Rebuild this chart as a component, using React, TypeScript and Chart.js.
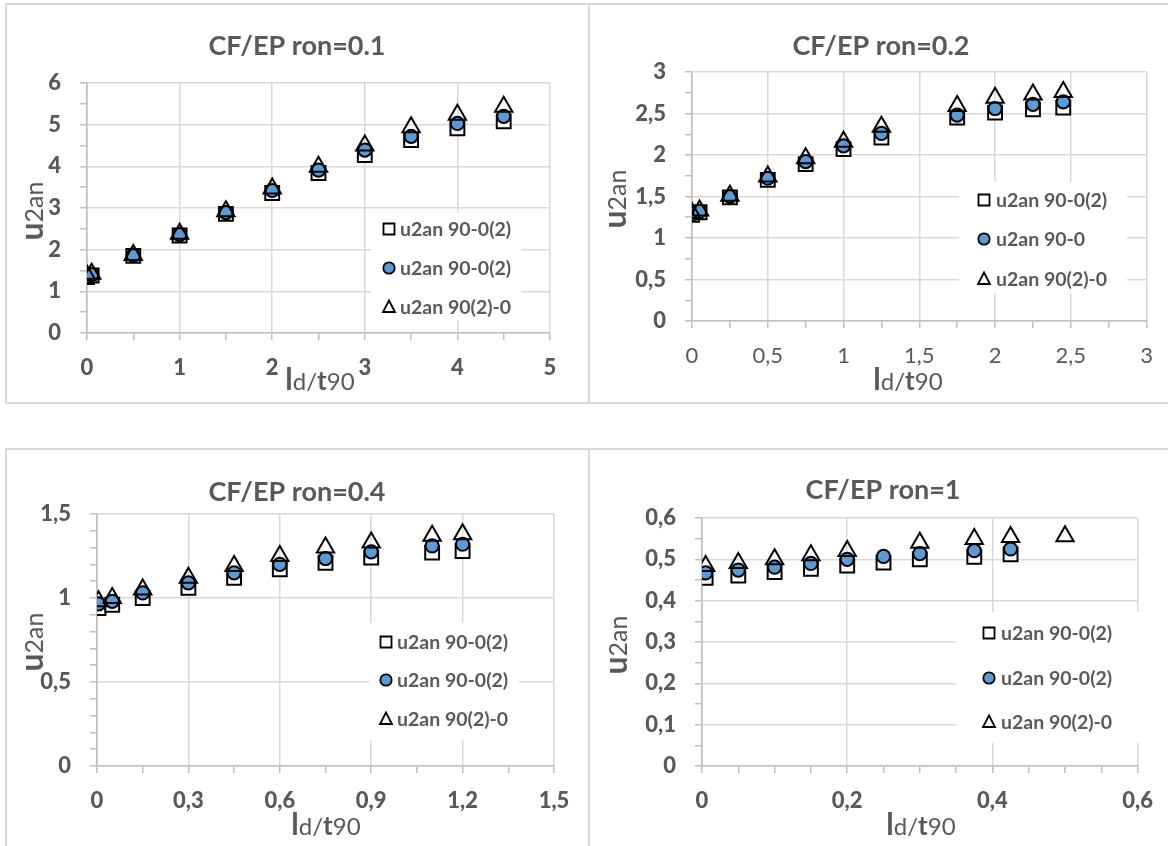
import React, { useEffect, useRef } from 'react';
import { Chart, registerables } from 'chart.js';

Chart.register(...registerables);

const FONT = 'Lato, "Open Sans", sans-serif';
const TEXT = '#595959';
const GRID = '#d9d9d9';
const AXIS = '#bfbfbf';
const BLUE = '#5B9BD5';

// ---------- data ----------
// Panel 1: CF/EP ron=0.1
const p1X = [0, 0.05, 0.5, 1, 1.5, 2, 2.5, 3, 3.5, 4, 4.5];
const p1Sq = [1.34, 1.38, 1.85, 2.34, 2.86, 3.36, 3.84, 4.27, 4.63, 4.91, 5.08];
const p1Ci = [1.36, 1.4, 1.86, 2.36, 2.89, 3.42, 3.91, 4.39, 4.72, 5.03, 5.2];
const p1Tr = [1.38, 1.42, 1.87, 2.38, 2.92, 3.47, 3.99, 4.5, 4.94, 5.24, 5.43];
const p1Labels = ['u2an 90-0(2)', 'u2an 90-0(2)', 'u2an 90(2)-0'];

// Panel 2: CF/EP ron=0.2
const p2X = [0, 0.05, 0.25, 0.5, 0.75, 1, 1.25, 1.75, 2, 2.25, 2.45];
const p2Sq = [1.28, 1.31, 1.49, 1.7, 1.89, 2.07, 2.21, 2.45, 2.51, 2.55, 2.57];
const p2Ci = [1.29, 1.32, 1.5, 1.72, 1.92, 2.11, 2.26, 2.48, 2.56, 2.61, 2.64];
const p2Tr = [1.3, 1.33, 1.51, 1.74, 1.96, 2.16, 2.34, 2.59, 2.69, 2.73, 2.76];
const p2Labels = ['u2an 90-0(2)', 'u2an 90-0', 'u2an 90(2)-0'];

// Panel 3: CF/EP ron=0.4
const p3X = [0.005, 0.05, 0.15, 0.3, 0.45, 0.6, 0.75, 0.9, 1.1, 1.2];
const p3Sq = [0.94, 0.96, 1.0, 1.06, 1.12, 1.17, 1.21, 1.24, 1.27, 1.28];
const p3Ci = [0.965, 0.98, 1.03, 1.09, 1.15, 1.2, 1.235, 1.275, 1.31, 1.32];
const p3Tr = [0.98, 1.0, 1.05, 1.12, 1.19, 1.25, 1.3, 1.33, 1.37, 1.38];
const p3Labels = ['u2an 90-0(2)', 'u2an 90-0(2)', 'u2an 90(2)-0'];

// Panel 4: CF/EP ron=1
const p4X = [0.005, 0.05, 0.1, 0.15, 0.2, 0.25, 0.3, 0.375, 0.425, 0.5];
const p4Sq = [0.455, 0.461, 0.469, 0.477, 0.485, 0.492, 0.5, 0.506, 0.512, null];
const p4Ci = [0.467, 0.474, 0.481, 0.49, 0.5, 0.507, 0.514, 0.521, 0.525, null];
const p4Tr = [0.484, 0.491, 0.5, 0.51, 0.52, null, 0.54, 0.549, 0.554, 0.556];
const p4Labels = ['u2an 90-0(2)', 'u2an 90-0(2)', 'u2an 90(2)-0'];

type Cfg = {
  title: string;
  x: number[];
  sq: (number | null)[];
  ci: (number | null)[];
  tr: (number | null)[];
  labels: string[];
  area: { l: number; t: number; r: number; b: number };
  xMax: number; xStep: number; xMajor: number;
  yMax: number; yStep: number; yMajor: number;
  xBold: boolean;
  titlePos: { cx: number; by: number };
  xTitle: { cx: number; by: number };
  yTitle: { bx: number; cy: number };
  legend: { box: [number, number, number, number]; mx: number; tx: number; rows: number[] };
};

const panels: Cfg[] = [
  {
    title: 'CF/EP ron=0.1', x: p1X, sq: p1Sq, ci: p1Ci, tr: p1Tr, labels: p1Labels,
    area: { l: 87, t: 83, r: 550, b: 333 },
    xMax: 5, xStep: 0.5, xMajor: 1, yMax: 6, yStep: 0.5, yMajor: 1, xBold: true,
    titlePos: { cx: 297, by: 55 }, xTitle: { cx: 320, by: 390 }, yTitle: { bx: 43, cy: 211 },
    legend: { box: [371, 213, 521, 320], mx: 389, tx: 400, rows: [229, 268, 307] },
  },
  {
    title: 'CF/EP ron=0.2', x: p2X, sq: p2Sq, ci: p2Ci, tr: p2Tr, labels: p2Labels,
    area: { l: 692, t: 72, r: 1150, b: 321 },
    xMax: 3, xStep: 0.25, xMajor: 0.5, yMax: 3, yStep: 0.25, yMajor: 0.5, xBold: false,
    titlePos: { cx: 881, by: 55 }, xTitle: { cx: 908, by: 390 }, yTitle: { bx: 626, cy: 199 },
    legend: { box: [959, 182, 1127, 293], mx: 984, tx: 996, rows: [200, 239, 279] },
  },
  {
    title: 'CF/EP ron=0.4', x: p3X, sq: p3Sq, ci: p3Ci, tr: p3Tr, labels: p3Labels,
    area: { l: 97, t: 514, r: 554, b: 766 },
    xMax: 1.5, xStep: 0.15, xMajor: 0.3, yMax: 1.5, yStep: 0.1, yMajor: 0.5, xBold: true,
    titlePos: { cx: 297, by: 501 }, xTitle: { cx: 326, by: 835 }, yTitle: { bx: 43, cy: 642 },
    legend: { box: [369, 623, 519, 740], mx: 386, tx: 397, rows: [642, 680, 719] },
  },
  {
    title: 'CF/EP ron=1', x: p4X, sq: p4Sq, ci: p4Ci, tr: p4Tr, labels: p4Labels,
    area: { l: 702, t: 518, r: 1141, b: 766 },
    xMax: 0.6, xStep: 0.05, xMajor: 0.2, yMax: 0.6, yStep: 0.05, yMajor: 0.1, xBold: true,
    titlePos: { cx: 883, by: 499 }, xTitle: { cx: 921, by: 835 }, yTitle: { bx: 627, cy: 645 },
    legend: { box: [956, 612, 1139, 743], mx: 989, tx: 1001, rows: [633, 678, 722] },
  },
];

const W = 1168;
const H = 846;
const Y_AXIS_W = 80;
const X_AXIS_H = 70;

const isMajor = (v: number, m: number) => Math.abs(v / m - Math.round(v / m)) < 1e-6;
const fmt = (v: number) => String(Math.round(v * 100) / 100).replace('.', ',');

type Run = { t: string; size: number; bold: boolean };

function runsWidth(ctx: CanvasRenderingContext2D, runs: Run[]) {
  let w = 0;
  for (const r of runs) {
    ctx.font = `${r.bold ? 'bold ' : ''}${r.size}px ${FONT}`;
    w += ctx.measureText(r.t).width;
  }
  return w;
}

function drawRuns(ctx: CanvasRenderingContext2D, runs: Run[], x: number, y: number) {
  let cx = x;
  for (const r of runs) {
    ctx.font = `${r.bold ? 'bold ' : ''}${r.size}px ${FONT}`;
    ctx.fillText(r.t, cx, y);
    cx += ctx.measureText(r.t).width;
  }
}

const X_TITLE: Run[] = [
  { t: 'l', size: 30, bold: true },
  { t: 'd', size: 24, bold: false },
  { t: '/', size: 24, bold: false },
  { t: 't', size: 26, bold: true },
  { t: '90', size: 24, bold: false },
];
const Y_TITLE: Run[] = [
  { t: 'u', size: 32, bold: true },
  { t: '2an', size: 25, bold: false },
];

function drawMarker(ctx: CanvasRenderingContext2D, kind: number, x: number, y: number) {
  ctx.save();
  ctx.lineWidth = 1.8;
  ctx.strokeStyle = '#000';
  ctx.beginPath();
  if (kind === 0) {
    ctx.rect(x - 5.5, y - 5.5, 11, 11);
    ctx.fillStyle = '#fff';
    ctx.fill();
  } else if (kind === 1) {
    ctx.arc(x, y, 5.7, 0, Math.PI * 2);
    ctx.fillStyle = BLUE;
    ctx.fill();
  } else {
    ctx.moveTo(x, y - 6.5);
    ctx.lineTo(x + 6, y + 5);
    ctx.lineTo(x - 6, y + 5);
    ctx.closePath();
    ctx.fillStyle = '#fff';
    ctx.fill();
  }
  ctx.stroke();
  ctx.restore();
}

function PanelChart({ cfg }: { cfg: Cfg }) {
  const ref = useRef<HTMLCanvasElement | null>(null);

  useEffect(() => {
    const canvas = ref.current;
    if (!canvas) return;
    const pts = (ys: (number | null)[]) =>
      cfg.x
        .map((x, i) => (ys[i] == null ? null : { x, y: ys[i] as number }))
        .filter((p) => p !== null) as { x: number; y: number }[];

    const deco = {
      id: 'deco',
      afterDraw(chart: any) {
        const ctx: CanvasRenderingContext2D = chart.ctx;
        ctx.save();
        ctx.fillStyle = TEXT;
        ctx.textBaseline = 'alphabetic';
        // title
        ctx.font = `bold 27px ${FONT}`;
        ctx.textAlign = 'center';
        ctx.fillText(cfg.title, cfg.titlePos.cx, cfg.titlePos.by);
        ctx.textAlign = 'left';
        // x title
        const xw = runsWidth(ctx, X_TITLE);
        drawRuns(ctx, X_TITLE, cfg.xTitle.cx - xw / 2, cfg.xTitle.by);
        // y title (rotated)
        ctx.save();
        ctx.translate(cfg.yTitle.bx, cfg.yTitle.cy);
        ctx.rotate(-Math.PI / 2);
        const yw = runsWidth(ctx, Y_TITLE);
        drawRuns(ctx, Y_TITLE, -yw / 2, 0);
        ctx.restore();
        // legend
        const [x0, y0, x1, y1] = cfg.legend.box;
        ctx.fillStyle = '#fff';
        ctx.fillRect(x0, y0, x1 - x0, y1 - y0);
        ctx.textBaseline = 'middle';
        cfg.labels.forEach((lab, i) => {
          const ry = cfg.legend.rows[i];
          drawMarker(ctx, i, cfg.legend.mx, ry);
          ctx.fillStyle = TEXT;
          ctx.font = `bold 19.5px ${FONT}`;
          ctx.fillText(lab, cfg.legend.tx, ry + 1);
        });
        ctx.restore();
      },
    };

    const axisCommon = (max: number, step: number, major: number, bold: boolean, pad: number) => ({
      type: 'linear' as const,
      min: 0,
      max,
      ticks: {
        stepSize: step,
        autoSkip: false,
        maxRotation: 0,
        minRotation: 0,
        maxTicksLimit: 1000,
        padding: pad,
        color: TEXT,
        font: { family: FONT, size: 22, weight: bold ? 900 : 400 },
        callback: (v: any) => (isMajor(Number(v), major) ? fmt(Number(v)) : ''),
      },
      grid: {
        color: (c: any) => (c.tick && isMajor(c.tick.value, major) ? GRID : 'rgba(0,0,0,0)'),
        lineWidth: 1.5,
        tickColor: AXIS,
        tickLength: 7,
        drawTicks: true,
      },
      border: { display: true, color: AXIS, width: 1.6 },
    });

    const a = cfg.area;
    const chart = new Chart(canvas, {
      type: 'scatter',
      data: {
        datasets: [
          {
            label: cfg.labels[0],
            data: pts(cfg.sq),
            pointStyle: 'rect',
            pointRadius: 9.8,
            pointBackgroundColor: '#fff',
            pointBorderColor: '#000',
            pointBorderWidth: 2,
            showLine: false,
            order: 2,
          },
          {
            label: cfg.labels[1],
            data: pts(cfg.ci),
            pointStyle: 'circle',
            pointRadius: 6.6,
            pointBackgroundColor: BLUE,
            pointBorderColor: '#000',
            pointBorderWidth: 2,
            showLine: false,
            order: 1,
          },
          {
            label: cfg.labels[2],
            data: pts(cfg.tr),
            pointStyle: 'triangle',
            pointRadius: 10,
            pointBackgroundColor: 'rgba(0,0,0,0)',
            pointBorderColor: '#000',
            pointBorderWidth: 2,
            showLine: false,
            order: 0,
          },
        ],
      },
      options: {
        responsive: false,
        animation: false,
        events: [],
        layout: {
          padding: {
            left: a.l - Y_AXIS_W,
            right: W - a.r,
            top: a.t,
            bottom: H - a.b - X_AXIS_H,
          },
        },
        plugins: {
          legend: { display: false },
          title: { display: false },
          tooltip: { enabled: false },
        },
        scales: {
          x: {
            ...axisCommon(cfg.xMax, cfg.xStep, cfg.xMajor, cfg.xBold, 15),
            position: 'bottom',
            afterFit: (s: any) => {
              s.height = X_AXIS_H;
            },
          },
          y: {
            ...axisCommon(cfg.yMax, cfg.yStep, cfg.yMajor, true, 19),
            position: 'left',
            afterFit: (s: any) => {
              s.width = Y_AXIS_W;
            },
          },
        },
      } as any,
      plugins: [deco],
    });
    return () => chart.destroy();
  }, [cfg]);

  return (
    <canvas
      ref={ref}
      width={W}
      height={H}
      style={{ position: 'absolute', left: 0, top: 0, width: W, height: H, display: 'block' }}
    />
  );
}

const line = (left: number, top: number, width: number, height: number) => (
  <div
    key={`${left}-${top}-${width}-${height}`}
    style={{ position: 'absolute', left, top, width, height, background: GRID }}
  />
);

export default function App() {
  return (
    <div
      style={{
        position: 'fixed',
        left: 0,
        top: 0,
        width: W,
        height: H,
        background: '#fff',
        overflow: 'hidden',
      }}
    >
      {line(6, 3, W - 6, 2)}
      {line(6, 402, W - 6, 2)}
      {line(6, 448, W - 6, 2)}
      {line(5, 3, 2, 401)}
      {line(588, 3, 2, 401)}
      {line(5, 448, 2, H - 448)}
      {line(588, 448, 2, H - 448)}
      {panels.map((cfg, i) => (
        <PanelChart key={i} cfg={cfg} />
      ))}
    </div>
  );
}
